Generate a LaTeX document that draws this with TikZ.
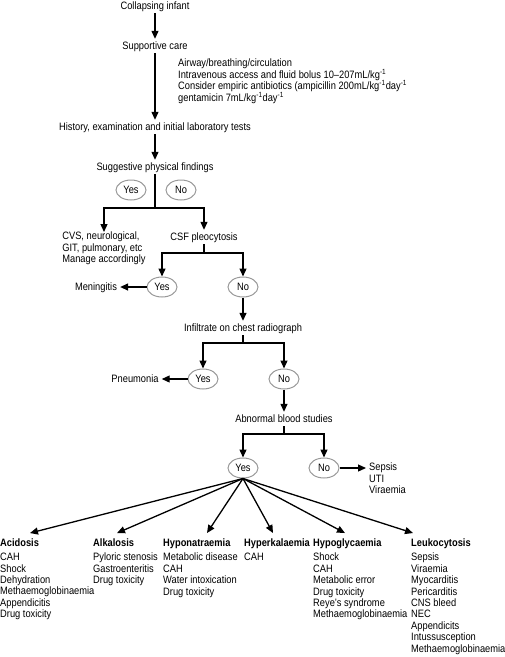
\documentclass[tikz,border=0pt]{standalone}
\usepackage{fontspec}
\setmainfont[FakeStretch=0.87]{Liberation Sans}
\usetikzlibrary{arrows.meta,shapes.geometric,calc}
\tikzset{
  txt/.style={inner xsep=3pt,inner ysep=2pt,text height=8pt,text depth=2pt},
  lst/.style={inner sep=0pt,align=left,anchor=north west},
  hdr/.style={inner xsep=0pt,inner ysep=5pt,anchor=base west,font=\bfseries},
  yn/.style={ellipse,draw=black!40,line width=1pt,minimum width=30pt,minimum height=20pt,inner sep=0pt},
  ln/.style={line width=1.3pt},
  arr/.style={line width=1.3pt,-{Triangle[length=8pt,width=7pt]}}
}
\begin{document}
\begin{tikzpicture}[x=1pt,y=-1pt]
\fontsize{10.7}{11.4}\selectfont
\useasboundingbox (0,0) rectangle (505,657);
% top chain
\node[txt] (col) at (155,6) {Collapsing infant};
\node[txt] (sup) at (155,46) {Supportive care};
\node[lst] (care) at (178,59) {Airway/breathing/circulation\\
Intravenous access and fluid bolus 10–207mL/kg\textsuperscript{-1}\\
Consider empiric antibiotics (ampicillin 200mL/kg\textsuperscript{-1}day\textsuperscript{-1}\\
gentamicin 7mL/kg\textsuperscript{-1}day\textsuperscript{-1}};
\node[txt] (his) at (155,127) {History, examination and initial laboratory tests};
\node[txt] (sug) at (155,167) {Suggestive physical findings};
\draw[arr] (col.south) -- (sup.north);
\draw[arr] (sup.south) -- (his.north);
\draw[arr] (his.south) -- (sug.north);
% suggestive findings split
\node[yn] (y1) at (131,190) {Yes};
\node[yn] (n1) at (181,190) {No};
\coordinate (j1) at (155,208);
\node[lst,anchor=north] (cvs) at (104,232) {CVS, neurological,\\GIT, pulmonary, etc\\Manage accordingly};
\node[txt] (csf) at (204,237) {CSF pleocytosis};
\draw[ln] (sug.south) -- (j1);
\draw[arr] (j1) -| (cvs.north);
\draw[arr] (j1) -| (csf.north);
% CSF split
\coordinate (j2) at (204,253);
\node[yn] (y2) at (162,287) {Yes};
\node[yn] (n2) at (243,287) {No};
\node[txt] (men) at (96,287) {Meningitis};
\draw[ln] (csf.south) -- (j2);
\draw[arr] (j2) -| (y2.north);
\draw[arr] (j2) -| (n2.north);
\draw[arr] (y2.west) -- (men.east);
% infiltrate
\node[txt] (inf) at (243,328) {Infiltrate on chest radiograph};
\draw[arr] (n2.south) -- (inf.north);
\coordinate (j3) at (243,343);
\node[yn] (y3) at (203,379) {Yes};
\node[yn] (n3) at (284,379) {No};
\node[txt] (pne) at (135,379) {Pneumonia};
\draw[ln] (inf.south) -- (j3);
\draw[arr] (j3) -| (y3.north);
\draw[arr] (j3) -| (n3.north);
\draw[arr] (y3.west) -- (pne.east);
% blood studies
\node[txt] (abn) at (284,419) {Abnormal blood studies};
\draw[arr] (n3.south) -- (abn.north);
\coordinate (j4) at (284,434);
\node[yn] (y4) at (243,468) {Yes};
\node[yn] (n4) at (324,468) {No};
\node[lst,anchor=north west,inner xsep=3pt] (sep) at (366,463) {Sepsis\\UTI\\Viraemia};
\draw[ln] (abn.south) -- (j4);
\draw[arr] (j4) -| (y4.north);
\draw[arr] (j4) -| (n4.north);
\draw[arr] (n4.east) -- (n4.east -| sep.west);
% columns
\node[hdr] (h1) at (0,546) {Acidosis};
\node[hdr] (h2) at (93,546) {Alkalosis};
\node[hdr] (h3) at (163,546) {Hyponatraemia};
\node[hdr] (h4) at (244,546) {Hyperkalaemia};
\node[hdr] (h5) at (313,546) {Hypoglycaemia};
\node[hdr] (h6) at (411,546) {Leukocytosis};
\node[lst] (l1) at (0,553) {CAH\\Shock\\Dehydration\\Methaemoglobinaemia\\Appendicitis\\Drug toxicity};
\node[lst] (l2) at (93,553) {Pyloric stenosis\\Gastroenteritis\\Drug toxicity};
\node[lst] (l3) at (163,553) {Metabolic disease\\CAH\\Water intoxication\\Drug toxicity};
\node[lst] (l4) at (244,553) {CAH};
\node[lst] (l5) at (313,553) {Shock\\CAH\\Metabolic error\\Drug toxicity\\Reye’s syndrome\\Methaemoglobinaemia};
\node[lst] (l6) at (411,553) {Sepsis\\Viraemia\\Myocarditis\\Pericarditis\\CNS bleed\\NEC\\Appendicits\\Intussusception\\Methaemoglobinaemia};
\draw[arr] (y4.south) -- ([xshift=30pt]h1.north west);
\draw[arr] (y4.south) -- ([xshift=24pt]h2.north west);
\draw[arr] (y4.south) -- ([xshift=44pt]h3.north west);
\draw[arr] (y4.south) -- ([xshift=29pt]h4.north west);
\draw[arr] (y4.south) -- ([xshift=32pt]h5.north west);
\draw[arr] (y4.south) -- ([xshift=2pt]h6.north west);
\end{tikzpicture}
\end{document}
